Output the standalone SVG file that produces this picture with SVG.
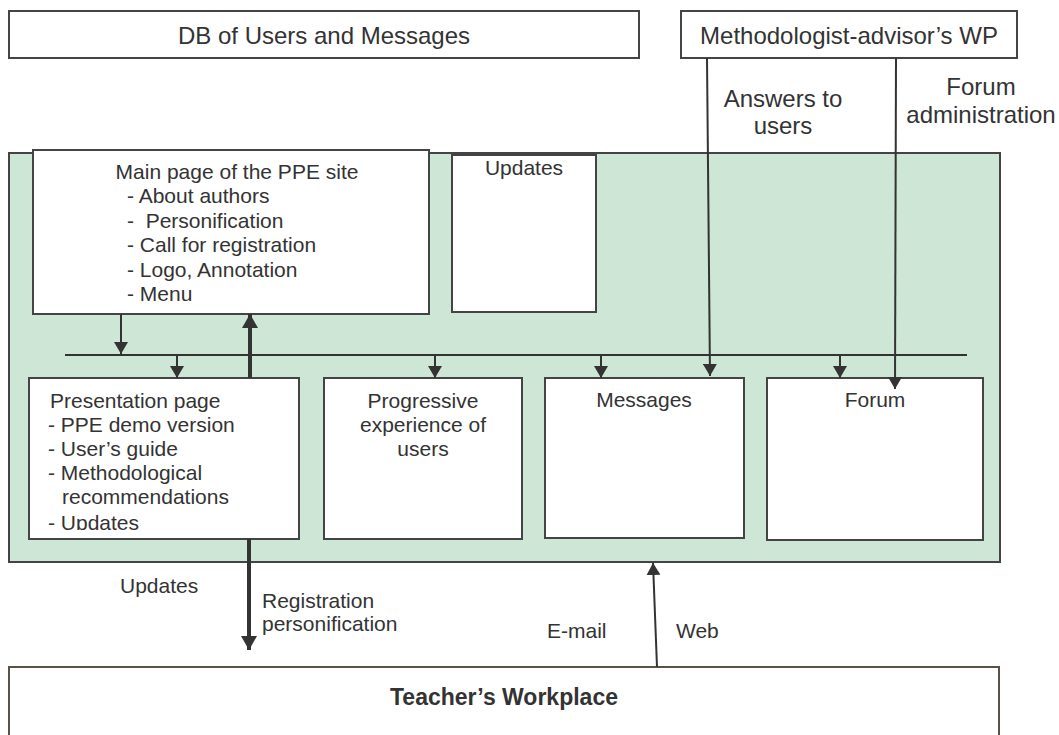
<svg xmlns="http://www.w3.org/2000/svg" width="1059" height="735" viewBox="0 0 1059 735">
<style>
text{font-family:"Liberation Sans",Arial,sans-serif;fill:#333;white-space:pre}
.o{font-size:24px}
.i{font-size:21px}
.m{text-anchor:middle}
.box{fill:#fff;stroke:#444;stroke-width:2}
.ln{stroke:#333;stroke-width:2;fill:none}
.th{stroke:#333;stroke-width:4;fill:none}
</style>
<defs>
<marker id="a" viewBox="0 0 12 14" refX="12" refY="7" markerWidth="12" markerHeight="14" markerUnits="userSpaceOnUse" orient="auto"><path d="M0,0 L12,7 L0,14 z" fill="#333"/></marker>
<marker id="t" viewBox="0 0 14 16" refX="14" refY="8" markerWidth="14" markerHeight="16" markerUnits="userSpaceOnUse" orient="auto"><path d="M0,0 L14,8 L0,16 z" fill="#333"/></marker>
<clipPath id="pc"><rect x="29" y="378" width="270" height="152"/></clipPath>
</defs>
<rect width="1059" height="735" fill="#fff"/>
<g id="db"><rect class="box" x="9" y="11" width="630" height="47"/><text class="o m" x="324" y="44">DB of Users and Messages</text></g>
<g id="methodologist"><rect class="box" x="681" y="11" width="336" height="47"/><text class="o m" x="849" y="44">Methodologist-advisor’s WP</text></g>
<g id="site"><rect x="9" y="153" width="991" height="409" fill="#cde6d6" stroke="#444" stroke-width="2"/></g>
<g id="main"><rect class="box" x="33" y="150" width="396" height="164"/>
<text class="i m" x="237" y="179">Main page of the PPE site</text>
<text class="i" x="127" y="203">- About authors</text>
<text class="i" x="127" y="228">-  Personification</text>
<text class="i" x="127" y="252">- Call for registration</text>
<text class="i" x="127" y="277">- Logo, Annotation</text>
<text class="i" x="127" y="301">- Menu</text></g>
<g id="updates"><rect class="box" x="452" y="155" width="144" height="157"/><text class="i m" x="524" y="175">Updates</text></g>
<g id="presentation"><rect class="box" x="29" y="378" width="270" height="161"/>
<g clip-path="url(#pc)">
<text class="i" x="50" y="408">Presentation page</text>
<text class="i" x="48" y="432">- PPE demo version</text>
<text class="i" x="48" y="456">- User’s guide</text>
<text class="i" x="48" y="480">- Methodological</text>
<text class="i" x="62" y="504">recommendations</text>
<text class="i" x="48" y="530">- Updates</text></g></g>
<g id="progressive"><rect class="box" x="324" y="378" width="198" height="161"/>
<text class="i m" x="423" y="408">Progressive</text>
<text class="i m" x="423" y="432">experience of</text>
<text class="i m" x="423" y="456">users</text></g>
<g id="messages"><rect class="box" x="545" y="378" width="199" height="160"/><text class="i m" x="644" y="407">Messages</text></g>
<g id="forum"><rect class="box" x="767" y="378" width="216" height="162"/><text class="i m" x="875" y="407">Forum</text></g>
<g id="teacher"><rect x="9" y="667" width="990" height="80" fill="#fff" stroke="#5a5245" stroke-width="2"/><text x="504" y="705" style="font-size:23px;font-weight:bold;text-anchor:middle">Teacher’s Workplace</text></g>
<g id="connectors">
<line class="ln" x1="65" y1="355" x2="967" y2="355"/>
<line class="ln" x1="121" y1="314" x2="121" y2="354" marker-end="url(#a)"/>
<line class="ln" x1="177" y1="355" x2="177" y2="378" marker-end="url(#a)"/>
<line class="ln" x1="435" y1="355" x2="435" y2="378" marker-end="url(#a)"/>
<line class="ln" x1="601" y1="355" x2="601" y2="378" marker-end="url(#a)"/>
<line class="ln" x1="840" y1="355" x2="840" y2="378" marker-end="url(#a)"/>
<line class="ln" x1="707" y1="58" x2="710" y2="376" marker-end="url(#a)"/>
<line class="ln" x1="896" y1="58" x2="895" y2="389" marker-end="url(#a)"/>
<line class="th" x1="250" y1="378" x2="250" y2="314" marker-end="url(#t)"/>
<line class="th" x1="249" y1="539" x2="249" y2="650" marker-end="url(#t)"/>
<line class="ln" x1="657" y1="667" x2="653" y2="563" marker-end="url(#a)"/>
</g>
<g id="labels">
<text class="o m" x="783" y="107">Answers to</text>
<text class="o m" x="783" y="134">users</text>
<text class="o m" x="981" y="95">Forum</text>
<text class="o m" x="981" y="123">administration</text>
<text class="i" x="120" y="593">Updates</text>
<text class="i" x="262" y="608">Registration</text>
<text class="i" x="262" y="631">personification</text>
<text class="i" x="547" y="638">E-mail</text>
<text class="i" x="676" y="638">Web</text>
</g>
</svg>
